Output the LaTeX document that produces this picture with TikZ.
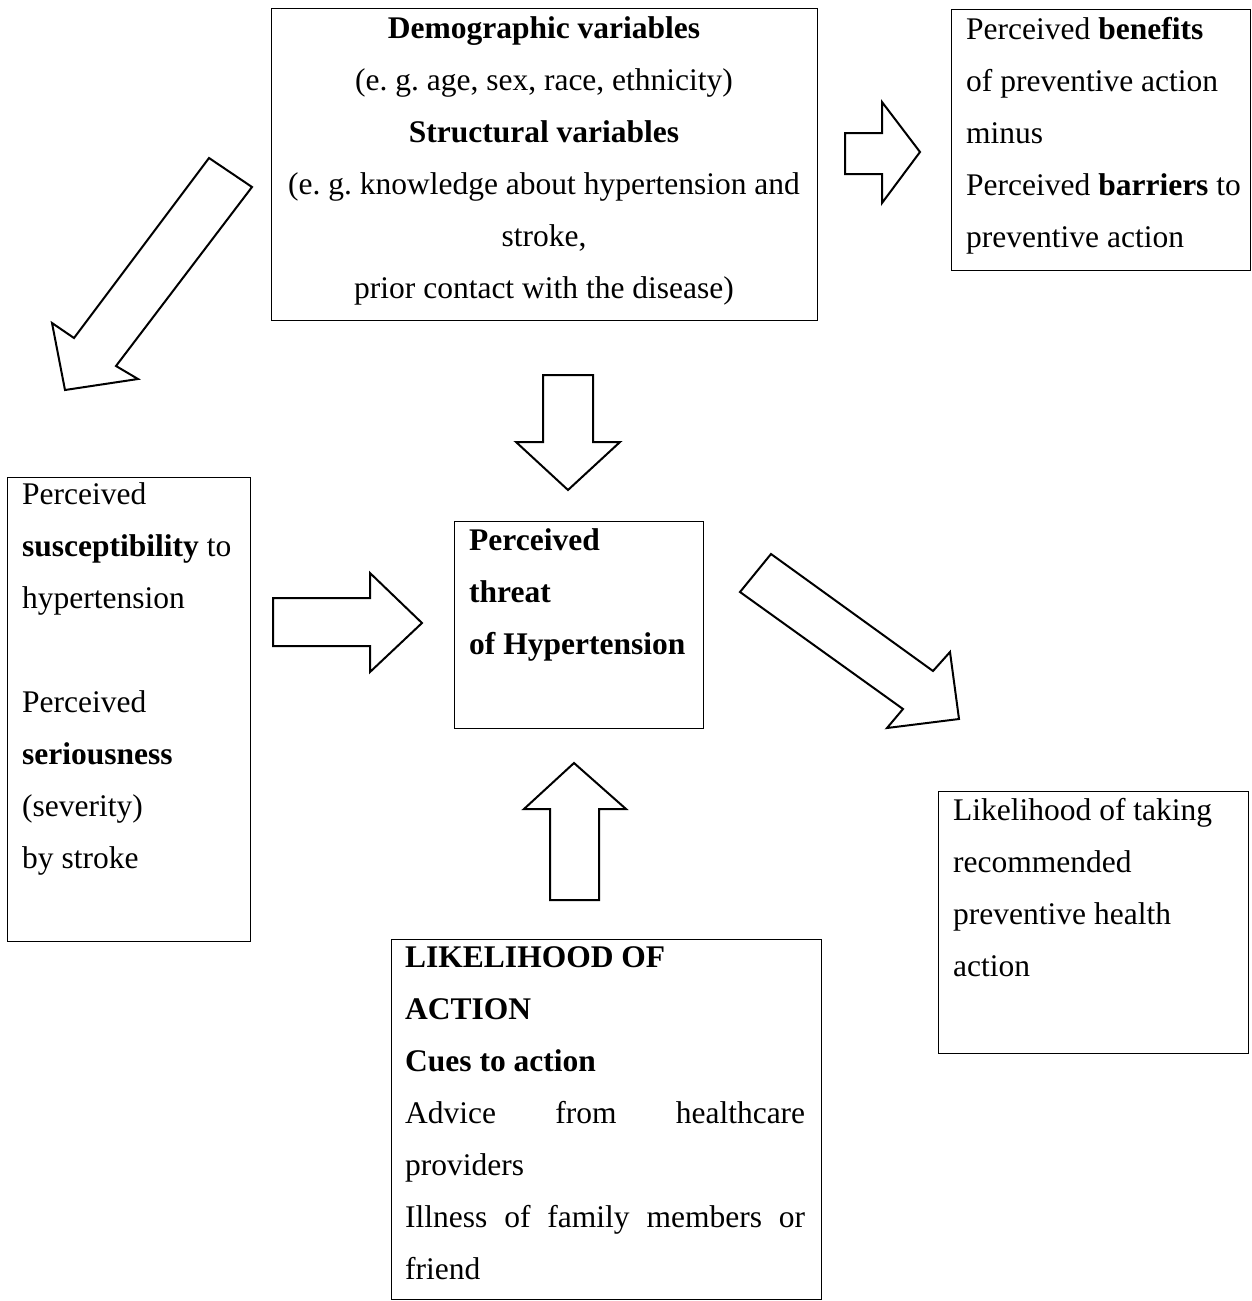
\documentclass[tikz,border=0pt]{standalone}
\usepackage{fontspec}
\setmainfont{Liberation Serif}
\usetikzlibrary{positioning}
\frenchspacing

\tikzset{
  box/.style={draw, line width=1.4pt, inner sep=0pt, anchor=north west},
  boxtext/.style={inner sep=0pt, anchor=base west, align=left, font=\fontsize{31.5}{52}\selectfont},
  blockarrow/.style={draw, line width=2pt, line join=miter, fill=white}
}

\begin{document}
\begin{tikzpicture}[x=1pt,y=-1pt]
\useasboundingbox (0,0) rectangle (1251,1301);

% boxes
\node[box, minimum width=546pt, minimum height=312pt](demog) at (271,8){};
\node[box, minimum width=299pt, minimum height=261pt](benefits) at (951,9){};
\node[box, minimum width=243pt, minimum height=464pt](suscept) at (7,477){};
\node[box, minimum width=249pt, minimum height=207pt](threat) at (454,521){};
\node[box, minimum width=310pt, minimum height=262pt](likely) at (938,791){};
\node[box, minimum width=430pt, minimum height=360pt](cues) at (391,939){};

% texts (placed at the baseline of their last line)
\node[boxtext, anchor=base, align=center](demogtext) at (544,298){\textbf{Demographic variables}\\
  (e. g. age, sex, race, ethnicity)\\
  \textbf{Structural variables}\\
  (e. g. knowledge about hypertension and\\
  stroke,\\
  prior contact with the disease)};
\node[boxtext](benefitstext) at (966,247){Perceived \textbf{benefits}\\
  of preventive action\\
  minus\\
  Perceived \textbf{barriers} to\\
  preventive action};
\node[boxtext](suscepttext) at (22,868){Perceived\\
  \textbf{susceptibility} to\\
  hypertension\\[52pt]
  Perceived\\
  \textbf{seriousness}\\
  (severity)\\
  by stroke};
\node[boxtext, font=\fontsize{31.5}{52}\selectfont\bfseries](threattext) at (469,654){Perceived\\
  threat\\
  of Hypertension};
\node[boxtext](likelytext) at (953,976){Likelihood of taking\\
  recommended\\
  preventive health\\
  action};
\node[boxtext](cuestext) at (405,1279){\textbf{LIKELIHOOD OF}\\
  \textbf{ACTION}\\
  \textbf{Cues to action}\\
  \makebox[400pt][s]{Advice from healthcare}\\
  providers\\
  \makebox[400pt][s]{Illness of family members or}\\
  friend};

% block arrows
\draw[blockarrow] (845,133) -- (882,133) -- (882,102) -- (920,152) -- (882,203) -- (882,174) -- (845,174) -- cycle;
\draw[blockarrow] (209,158) -- (252,187) -- (116,366) -- (138,379) -- (65,390) -- (52,323) -- (74,338) -- cycle;
\draw[blockarrow] (543,375) -- (593,375) -- (593,442) -- (620,442) -- (568,490) -- (516,442) -- (543,442) -- cycle;
\draw[blockarrow] (273,598) -- (370,598) -- (370,573) -- (422,623) -- (370,672) -- (370,646) -- (273,646) -- cycle;
\draw[blockarrow] (550,900) -- (550,809) -- (524,809) -- (574,763) -- (626,809) -- (599,809) -- (599,900) -- cycle;
\draw[blockarrow] (771,554) -- (933,671) -- (950,652) -- (959,719) -- (887,728) -- (903,709) -- (740,592) -- cycle;
\end{tikzpicture}
\end{document}
